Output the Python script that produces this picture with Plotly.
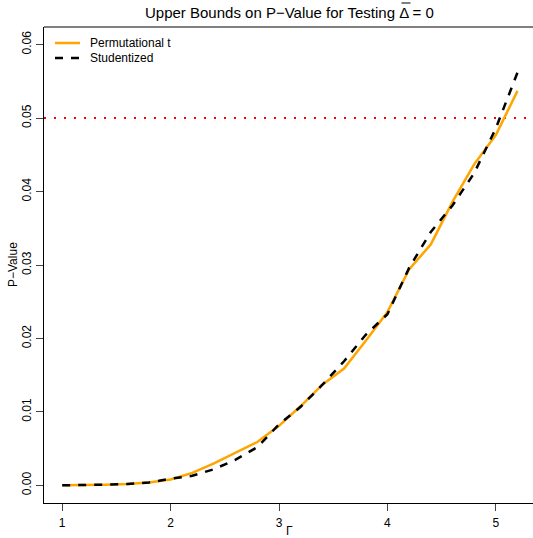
import plotly.graph_objects as go

gamma = [1.0, 1.2, 1.4, 1.6, 1.8, 2.0, 2.2, 2.4, 2.6, 2.8, 3.0, 3.2, 3.4, 3.6, 3.8, 4.0, 4.2, 4.4, 4.6, 4.8, 5.0, 5.2]
perm_t = [0.0000, 0.0000, 0.0001, 0.0002, 0.0004, 0.0008, 0.0017, 0.0030, 0.0045, 0.0059, 0.0081, 0.0108, 0.0137, 0.0159, 0.0197, 0.0236, 0.0294, 0.0328, 0.0386, 0.0437, 0.0477, 0.0537]
student = [0.0000, 0.0000, 0.0001, 0.0002, 0.0004, 0.0009, 0.0013, 0.0022, 0.0035, 0.0052, 0.0083, 0.0107, 0.0137, 0.0169, 0.0205, 0.0233, 0.0296, 0.0345, 0.0381, 0.0425, 0.0486, 0.0562]
alpha = 0.05
x_ticks = [1, 2, 3, 4, 5]
y_ticks = [0.00, 0.01, 0.02, 0.03, 0.04, 0.05, 0.06]
series_names = ["Permutational t", "Studentized"]

FONT = "Liberation Sans, Arial, Helvetica, sans-serif"
ORANGE = "#FFA500"
DASH = "8px,8px"

fig = go.Figure()
fig.add_trace(go.Scatter(x=gamma, y=perm_t, mode="lines", name=series_names[0],
                         line=dict(color=ORANGE, width=2.5)))
fig.add_trace(go.Scatter(x=gamma, y=student, mode="lines", name=series_names[1],
                         line=dict(color="black", width=2.5, dash=DASH)))

shapes = [
    # reference line at alpha
    dict(type="line", xref="paper", yref="y", x0=0, x1=1, y0=alpha, y1=alpha,
         line=dict(color="red", width=2, dash="2px,8px"), layer="below"),
    # top border of box
    dict(type="line", xref="paper", yref="paper", x0=0, x1=1, y0=1, y1=1,
         line=dict(color="black", width=1)),
    # overline on Delta in title
    dict(type="line", xref="paper", yref="paper", x0=0.731, x1=0.7495, y0=1.0504, y1=1.0504,
         line=dict(color="black", width=1)),
    # legend swatches
    dict(type="line", xref="paper", yref="paper", x0=0.0225, x1=0.0736, y0=0.9664, y1=0.9664,
         line=dict(color=ORANGE, width=2.5)),
    dict(type="line", xref="paper", yref="paper", x0=0.0225, x1=0.0736, y0=0.9349, y1=0.9349,
         line=dict(color="black", width=2.5, dash=DASH)),
]

annotations = [
    dict(text="Upper Bounds on P\u2212Value for Testing \u0394 = 0", xref="paper", yref="paper",
         x=0.503, y=1, yshift=15, xanchor="center", yanchor="middle", showarrow=False,
         font=dict(size=15)),
    dict(text="\u0393", xref="paper", yref="paper", x=0.503, y=0, yshift=-28,
         xanchor="center", yanchor="middle", showarrow=False, font=dict(size=12)),
    dict(text="P\u2212Value", xref="paper", yref="paper", x=0, y=0.5, xshift=-31,
         xanchor="center", yanchor="middle", showarrow=False, textangle=-90, font=dict(size=12)),
    dict(text=series_names[0], xref="paper", yref="paper", x=0.09, y=0.9664,
         xanchor="left", yanchor="middle", showarrow=False, font=dict(size=12)),
    dict(text=series_names[1], xref="paper", yref="paper", x=0.09, y=0.9349,
         xanchor="left", yanchor="middle", showarrow=False, font=dict(size=12)),
]

fig.update_layout(
    width=533, height=538,
    margin=dict(l=44, r=0, t=27, b=35),
    paper_bgcolor="white", plot_bgcolor="white",
    font=dict(family=FONT, size=12, color="black"),
    showlegend=False,
    hovermode=False,
    xaxis=dict(range=[0.832, 5.343], tickvals=x_ticks, ticks="outside", ticklen=7,
               showgrid=False, zeroline=False, showline=True, linecolor="black", linewidth=1,
               tickfont=dict(size=12), ticklabelstandoff=2),
    yaxis=dict(range=[-0.0024, 0.0624], tickvals=y_ticks, tickformat=".2f", ticks="outside", ticklen=7,
               showgrid=False, zeroline=False, showline=True, linecolor="black", linewidth=1,
               tickangle=-90, tickfont=dict(size=12)),
    shapes=shapes,
    annotations=annotations,
)

fig.write_html("out.html", config={"displayModeBar": False},
               post_script="document.body.style.margin='0px';")
